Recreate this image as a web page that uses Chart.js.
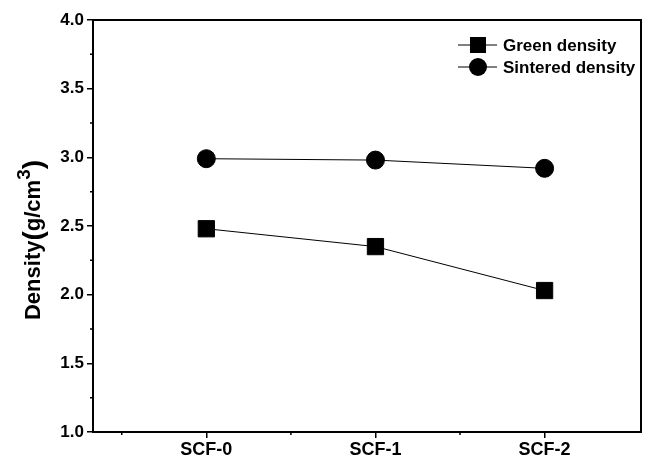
<!DOCTYPE html>
<html>
<head>
<meta charset="utf-8">
<script src="https://cdn.jsdelivr.net/npm/chart.js@4.4.0/dist/chart.umd.min.js"></script>
<style>
  html, body { margin: 0; padding: 0; background: #fff; }
  #wrap { width: 657px; height: 464px; }
</style>
</head>
<body>
<div id="wrap"><canvas id="densityChart" width="657" height="464"></canvas></div>
<script>
// Data
const samples = ['SCF-0', 'SCF-1', 'SCF-2'];
const greenDensity = [2.48, 2.35, 2.03];
const sinteredDensity = [2.99, 2.98, 2.92];
const yTicks = [1.0, 1.5, 2.0, 2.5, 3.0, 3.5, 4.0];

const FONT = '"Liberation Sans", Arial, sans-serif';

// Frame, minor ticks, y title and the in-plot legend
const framePlugin = {
    id: 'frame',
    afterDraw(chart) {
        const { ctx, chartArea: a, scales } = chart;
        ctx.save();
        ctx.strokeStyle = '#000';
        ctx.lineWidth = 2;
        ctx.strokeRect(a.left, a.top, a.right - a.left, a.bottom - a.top);

        // minor ticks
        ctx.lineWidth = 1.5;
        ctx.beginPath();
        for (let v = 1.25; v < 4; v += 0.5) {
            const y = scales.y.getPixelForValue(v);
            ctx.moveTo(a.left, y);
            ctx.lineTo(a.left - 3, y);
        }
        [-0.5, 0.5, 1.5].forEach(v => {
            const x = scales.x.getPixelForValue(v);
            ctx.moveTo(x, a.bottom);
            ctx.lineTo(x, a.bottom + 3);
        });
        ctx.stroke();

        // y title: Density(g/cm3) with superscript
        ctx.fillStyle = '#000';
        ctx.translate(40, 240);
        ctx.rotate(-Math.PI / 2);
        const parts = [
            { t: 'Density', f: 'bold 22px ', dy: 0 },
            { t: '(', f: 'bold 28px ', dy: 2 },
            { t: 'g/cm', f: 'bold 22px ', dy: 0 },
            { t: '3', f: 'bold 19px ', dy: -10 },
            { t: ')', f: 'bold 28px ', dy: 2 }
        ];
        let total = 0;
        parts.forEach(p => { ctx.font = p.f + FONT; total += ctx.measureText(p.t).width; });
        let cx = -total / 2;
        ctx.textBaseline = 'alphabetic';
        parts.forEach(p => {
            ctx.font = p.f + FONT;
            ctx.fillText(p.t, cx, p.dy);
            cx += ctx.measureText(p.t).width;
        });
        ctx.setTransform(1, 0, 0, 1, 0, 0);

        // legend
        const items = [
            { label: 'Green density', style: 'rect', y: 45 },
            { label: 'Sintered density', style: 'circle', y: 67 }
        ];
        const lx = 478;
        ctx.font = 'bold 17px ' + FONT;
        ctx.textBaseline = 'middle';
        items.forEach(it => {
            ctx.lineWidth = 1;
            ctx.beginPath();
            ctx.moveTo(lx - 20, it.y);
            ctx.lineTo(lx + 19, it.y);
            ctx.stroke();
            if (it.style === 'rect') {
                ctx.fillRect(lx - 8, it.y - 8, 16, 16);
            } else {
                ctx.beginPath();
                ctx.arc(lx, it.y, 9, 0, Math.PI * 2);
                ctx.fill();
            }
            ctx.fillText(it.label, lx + 25, it.y + 1);
        });
        ctx.restore();
    }
};

new Chart(document.getElementById('densityChart'), {
    type: 'line',
    data: {
        datasets: [
            {
                label: 'Green density',
                data: greenDensity.map((v, i) => ({ x: i, y: v })),
                borderColor: '#000',
                backgroundColor: '#000',
                borderWidth: 1,
                pointStyle: 'rect',
                pointRadius: 11.5,
                pointHoverRadius: 11.5
            },
            {
                label: 'Sintered density',
                data: sinteredDensity.map((v, i) => ({ x: i, y: v })),
                borderColor: '#000',
                backgroundColor: '#000',
                borderWidth: 1,
                pointStyle: 'circle',
                pointRadius: 9,
                pointHoverRadius: 9
            }
        ]
    },
    options: {
        responsive: false,
        animation: false,
        layout: { padding: { top: 20, right: 16, left: 0, bottom: 0 } },
        plugins: {
            legend: { display: false },
            tooltip: { enabled: false }
        },
        scales: {
            x: {
                type: 'linear',
                min: -0.67,
                max: 2.57,
                afterBuildTicks: scale => {
                    scale.ticks = samples.map((s, i) => ({ value: i }));
                },
                afterFit: scale => { scale.height = 32; },
                ticks: {
                    callback: v => samples[v],
                    color: '#000',
                    font: { family: FONT, size: 18, weight: 'bold' },
                    padding: 1,
                    maxRotation: 0
                },
                grid: {
                    drawOnChartArea: false,
                    tickLength: 6,
                    color: '#000',
                    lineWidth: 1.5
                },
                border: { color: '#000', width: 2 }
            },
            y: {
                min: 1,
                max: 4,
                afterBuildTicks: scale => {
                    scale.ticks = yTicks.map(v => ({ value: v }));
                },
                afterFit: scale => { scale.width = 93; },
                ticks: {
                    callback: v => v.toFixed(1),
                    color: '#000',
                    font: { family: FONT, size: 17, weight: 'bold' },
                    padding: 3
                },
                grid: {
                    drawOnChartArea: false,
                    tickLength: 6,
                    color: '#000',
                    lineWidth: 1.5
                },
                border: { color: '#000', width: 2 }
            }
        }
    },
    plugins: [framePlugin]
});
</script>
</body>
</html>
